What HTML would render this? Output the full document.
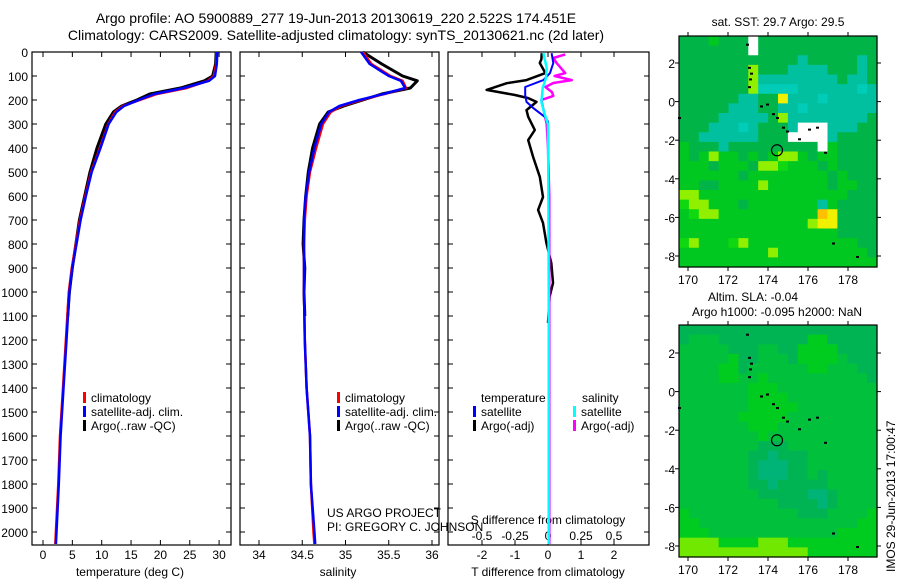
<!DOCTYPE html>
<html><head><meta charset="utf-8">
<style>
html,body{margin:0;padding:0;background:#fff;}
svg{display:block;font-family:"Liberation Sans",sans-serif;}
text{fill:#000;}
</style></head>
<body>
<svg id="fig" width="900" height="580" viewBox="0 0 900 580">
<text x="336" y="23" font-size="14" text-anchor="middle">Argo profile: AO 5900889_277 19-Jun-2013 20130619_220 2.522S 174.451E</text>
<text x="336" y="40" font-size="14" text-anchor="middle">Climatology: CARS2009. Satellite-adjusted climatology: synTS_20130621.nc (2d later)</text>
<g id="plots"></g>
</svg>
<script>
// ---------- data ----------
const depthTicks=[0,100,200,300,400,500,600,700,800,900,1000,1100,1200,1300,1400,1500,1600,1700,1800,1900,2000];
const tempTicks=[0,5,10,15,20,25,30];
const salTicks=[34,34.5,35,35.5,36];
const salTickLabels=["34","34.5","35","35.5","36"];
const dTTicks=[-2,-1,0,1,2];
const dSTicks=[-0.5,-0.25,0,0.25,0.5];
const dSTickLabels=["-0.5","-0.25","0","0.25","0.5"];

const climDepth=[0,50,100,120,150,175,200,225,250,300,400,500,600,700,800,900,1000,1200,1400,1600,1800,2000,2050];
const climTemp=[29.6,29.5,29.1,28.1,24.5,19.4,16.5,13.6,12.3,11.1,9.7,8.2,7.2,6.3,5.6,4.9,4.4,3.9,3.4,2.9,2.6,2.2,2.1];
const satTemp=[29.7,29.6,29.3,28.3,24.0,19.0,16.3,13.8,12.5,11.2,9.8,8.3,7.3,6.4,5.7,5.0,4.5,4.0,3.5,3.0,2.7,2.3,2.2];
const argoDepth=[0,50,100,120,150,175,200,225,250,300,400,500,600,700,800,900,1000,1100];
const argoTemp=[29.5,29.4,28.9,27.5,23.4,18.2,16.0,13.4,12.0,10.7,9.2,8.0,7.1,6.2,5.6,5.0,4.5,4.2];

const climSal=[35.2,35.3,35.52,35.66,35.7,35.45,35.18,34.95,34.83,34.74,34.66,34.59,34.55,34.53,34.52,34.52,34.52,34.53,34.55,34.59,34.6,34.63,34.64];
const satSal=[35.18,35.28,35.5,35.64,35.69,35.44,35.16,34.93,34.81,34.72,34.64,34.58,34.54,34.52,34.52,34.52,34.52,34.53,34.55,34.59,34.6,34.64,34.65];
const argoSal=[35.2,35.42,35.66,35.83,35.75,35.42,35.2,34.98,34.8,34.7,34.62,34.57,34.54,34.52,34.51,34.53,34.52,34.53];

const dTSatDepth=[5,46,88,117,146,179,208,233,270,290,500,1000,1500,2050];
const dTSat=[0.11,0.16,0.06,-0.14,-0.69,-0.69,-0.65,-0.45,-0.1,0.0,0.02,0.02,0.03,0.03];
const dTArgoDepth=[5,30,46,88,117,130,158,179,192,208,242,270,325,367,437,520,604,658,712,796,879,962,1020,1129];
const dTArgo=[-0.19,-0.2,-0.25,-0.08,-0.65,-1.25,-1.86,-1.0,-0.6,-0.35,-0.65,-0.6,-0.4,-0.6,-0.45,-0.25,-0.15,-0.3,-0.15,-0.05,0.1,0.15,0.05,0.0];
const dSSatDepth=[5,67,108,150,208,260,300,600,1000,1500,2050];
const dSSat=[-0.035,-0.01,-0.015,-0.04,-0.05,-0.025,0.0,0.003,0.005,0.005,0.005];
const dSArgoDepth=[10,25,46,88,100,117,129,146,167,183,200,250,300,400,600,1000,1500,2050];
const dSArgo=[0.13,0.04,0.065,0.13,0.05,0.18,0.04,-0.02,0.03,0.04,-0.05,-0.03,-0.01,0.0,0.01,0.01,0.01,0.01];

const lonTicks=[170,172,174,176,178];
const latTicks=[2,0,-2,-4,-6,-8];
const sstGrid=[
"gggGgggwgggggggggggg","gggggggwgggggggggggg","ggggggggggggtgggggtg","gggggggygggttttgggtg",
"gggggggyttttttttgttg","gggggggyTTTTttttttTt","ggggggttggYtttTttttt","gggggtttggttTttttttt",
"ggggtttttgyttttttttg","gggtttTtgggtwwwtttgg","ggttttttgggwwwwtgggg","GgggtgggggggggwGgggg",
"GgGyGGgGgGyyGgGGgggg","GGGgGGGgyybGGGgGgggg","GGGGGGgGGGGGGGGgGggg","GGggGGGGyGGGGGGgGGgg",
"yyGGGGGGGGGGGGGGGggg","byyGGGgGGGGGGGtGgggg","GbyyGGGGGGGGGGoYgggg","GGGGGGGGGGGGGyYYgggg",
"GGGGGGGGGGGGGGGGgggg","byGGGbyGGGGGGGGGGGgg","GGGGGGGGGyGGGGGGGGGg","GGGGGGGGGGGGGGGGGGGG"];
const slaGrid=[
"gggggggggggggggggggg","gmmmgggggggggGGggggg","mmmmmgggmmggGGGGgggg","mmmmmGggmmmgGGGGmggg",
"mmmmGGgmmmmmmGGmmmgg","mmmmGGmmGmmmmmmmmmmg","mmmmmmmGGGmmmmmmmmmm","mmmmmmmGGGGmmmmmmmmm",
"mmmmmmmGGGGGmmmmmmmm","mmmmmmGGGGGmmmmmmmmm","mmmmmmmGGGmmmmmmmmmm","mmmmmmmmGmmmmmmmmmmm",
"mmmmmmmmgggmmmmmmmmm","mmmmmmmggtgggmmmmmmm","mmmmmmmgtttggmmmmmmm","mmmmmmmgtttggmgmmmmm",
"mmmmmmmggtgggggmmmmm","mmmmmmmmgggggttgmmmm","mmmmmmmmmmggggtgmmmm","GmmmmmmmmmmmgggmmmmG",
"GGmmmmmmmmmmmmmmmmGG","GGGmmmmmmmmmmmmmGGGG","yyyyGGGGyyyGGGGGGGGG","yyyyyyyyyyyyyGGGGGGG"];
const coastLon=[172.9,173.0,173.1,173.05,173.0,173.6,173.9,174.2,174.4,174.7,174.9,175.5,176.0,176.4,176.8,177.2,178.4,169.5];
const coastLat=[3.0,1.8,1.5,1.2,0.8,-0.2,-0.1,-0.6,-0.8,-1.3,-1.5,-1.9,-1.4,-1.3,-2.6,-7.3,-8.0,-0.8];
const argoLon=[174.451];
const argoLat=[-2.522];

// ---------- helpers ----------
const NS="http://www.w3.org/2000/svg";
const root=document.getElementById('plots');
function mk(tag,attrs,parent){const e=document.createElementNS(NS,tag);for(const k in attrs)e.setAttribute(k,attrs[k]);(parent||root).appendChild(e);return e;}
const top0=52,bot=545;
const yD=d=>top0+d*0.24;
function poly(xs,ds,fx,color,w,name,g){
  const pts=xs.map((v,i)=>fx(v).toFixed(1)+","+yD(ds[i]).toFixed(1)).join(" ");
  const p=mk('polyline',{points:pts,fill:'none',stroke:color,'stroke-width':w,'stroke-linejoin':'round'},g);
  
  
}
function panel(x0,x1,name){
  const g=mk('g',{});
  
  
  mk('rect',{x:x0,y:top0,width:x1-x0,height:bot-top0,fill:'#fff',stroke:'#000','stroke-width':1.2},g);
  depthTicks.forEach(d=>{mk('line',{x1:x0,x2:x0+5,y1:yD(d),y2:yD(d),stroke:'#000'},g);mk('line',{x1:x1-5,x2:x1,y1:yD(d),y2:yD(d),stroke:'#000'},g);});
  return g;
}
function xticks(g,ticks,labels,fx,ly){
  ticks.forEach((t,i)=>{const x=fx(t);
    mk('line',{x1:x,x2:x,y1:top0,y2:top0+5,stroke:'#000'},g);
    mk('line',{x1:x,x2:x,y1:bot-5,y2:bot,stroke:'#000'},g);
    const tx=mk('text',{x:x,y:ly,'font-size':12,'text-anchor':'middle'},g);tx.textContent=labels[i];
    
    });
}
function label(g,x,y,s,txt,anchor,name){const t=mk('text',{x:x,y:y,'font-size':s,'text-anchor':anchor||'start'},g);t.textContent=txt;
  
  return t;}
function legend(g,x,y,color,txt,name){mk('rect',{x:x,y:y-10,width:3,height:11,fill:color},g);label(g,x+8,y,12,txt,'start',name);}

// ---------- panel 1: temperature ----------
const fT=t=>43+t*5.87;
const g1=panel(32,231,'temperature-panel');
depthTicks.forEach(d=>{const t=label(g1,28,yD(d)+5,12,String(d),'end','depth-tick-label');});
xticks(g1,tempTicks,tempTicks.map(String),fT,559);
label(g1,130,576,12,'temperature (deg C)','middle','temperature-axis-title');
poly(argoTemp,argoDepth,fT,'#000',3,'argo-temperature-line',g1);
poly(climTemp,climDepth,fT,'#f00',2.5,'climatology-temperature-line',g1);
poly(satTemp,climDepth,fT,'#00f',2.5,'satellite-temperature-line',g1);
legend(g1,83,402,'#f00','climatology','legend-climatology');
legend(g1,83,416,'#00f','satellite-adj. clim.','legend-satellite');
legend(g1,83,430,'#000','Argo(..raw -QC)','legend-argo');

// ---------- panel 2: salinity ----------
const fS=s=>259+(s-34)*86.5;
const g2=panel(240,439,'salinity-panel');
xticks(g2,salTicks,salTickLabels,fS,559);
label(g2,338,576,12,'salinity','middle','salinity-axis-title');
poly(argoSal,argoDepth,fS,'#000',3,'argo-salinity-line',g2);
poly(climSal,climDepth,fS,'#f00',2.5,'climatology-salinity-line',g2);
poly(satSal,climDepth,fS,'#00f',2.5,'satellite-salinity-line',g2);
legend(g2,337,402,'#f00','climatology','legend-climatology');
legend(g2,337,416,'#00f','satellite-adj. clim.','legend-satellite');
legend(g2,337,430,'#000','Argo(..raw -QC)','legend-argo');

// ---------- panel 3: differences ----------
const fdT=v=>548+v*33;
const fdS=v=>548+v*132;
const g3=panel(448,649,'difference-panel');
xticks(g3,dTTicks,dTTicks.map(String),fdT,559);
dSTicks.forEach((t,i)=>{const tx=label(g3,fdS(t),540,12,dSTickLabels[i],'middle','s-diff-tick-label');});
label(g3,548,524,12,'S difference from climatology','middle','s-diff-axis-title');
label(g3,548,576,12,'T difference from climatology','middle','t-diff-axis-title');
poly(dTArgo,dTArgoDepth,fdT,'#000',2.5,'argo-t-diff-line',g3);
poly(dSArgo,dSArgoDepth,fdS,'#f0f',2.5,'argo-s-diff-line',g3);
poly(dTSat,dTSatDepth,fdT,'#00f',2,'satellite-t-diff-line',g3);
poly(dSSat,dSSatDepth,fdS,'#0ff',2.5,'satellite-s-diff-line',g3);
label(g3,481,402,12,'temperature','start','legend-temperature-header');
label(g3,582,402,12,'salinity','start','legend-salinity-header');
legend(g3,473,416,'#00f','satellite','legend-t-satellite');
legend(g3,473,430,'#000','Argo(-adj)','legend-t-argo');
legend(g3,573,416,'#0ff','satellite','legend-s-satellite');
legend(g3,573,430,'#f0f','Argo(-adj)','legend-s-argo');

// credits drawn last so they overlap panel 3 like the reference
label(root,327,517,12,'US ARGO PROJECT','start','project-label');
label(root,327,531,12,'PI: GREGORY C. JOHNSON','start','pi-label');

// ---------- maps ----------
const sstColors={g:'#00b448',G:'#00c820',b:'#10d810',t:'#00c0a0',T:'#00ccb8',y:'#90f000',Y:'#f0f000',w:'#ffffff',o:'#ffc000'};
const slaColors={g:'#00b454',m:'#00c03c',G:'#00cc20',t:'#00b478',y:'#70e800'};
function map(y0,y1,lat2y,latm8y,grid,colors,name){
  const x0=679,x1=877;
  const g=mk('g',{});
  
  
  const fx=lon=>688+(lon-170)*20;
  const k=(latm8y-lat2y)/10;
  const fy=lat=>lat2y+(2-lat)*k;
  const cw=(x1-x0)/grid[0].length, ch=(y1-y0)/grid.length;
  grid.forEach((row,r)=>{for(let c=0;c<row.length;c++){
    const cell=mk('rect',{x:(x0+c*cw).toFixed(2),y:(y0+r*ch).toFixed(2),width:(cw+0.6).toFixed(2),height:(ch+0.6).toFixed(2),fill:colors[row[c]]},g);
    
    }});
  coastLon.forEach((lon,i)=>{const d=mk('rect',{x:fx(lon),y:fy(coastLat[i]),width:3,height:2,fill:'#000'},g);
    
    });
  argoLon.forEach((lon,i)=>{const c=mk('circle',{cx:fx(lon),cy:fy(argoLat[i]),r:5.5,fill:'none',stroke:'#000','stroke-width':1.2},g);
    
    });
  mk('rect',{x:x0,y:y0,width:x1-x0,height:y1-y0,fill:'none',stroke:'#000','stroke-width':1.2},g);
  lonTicks.forEach(l=>{const x=fx(l);mk('line',{x1:x,x2:x,y1:y0-4,y2:y0,stroke:'#000'},g);mk('line',{x1:x,x2:x,y1:y1,y2:y1+4,stroke:'#000'},g);
    label(g,x,y1+17,12,String(l),'middle','lon-tick-label');});
  latTicks.forEach(l=>{const y=fy(l);mk('line',{x1:x0-4,x2:x0,y1:y,y2:y,stroke:'#000'},g);mk('line',{x1:x1,x2:x1+4,y1:y,y2:y,stroke:'#000'},g);
    label(g,675,y+5,12,String(l),'end','lat-tick-label');});
  return g;
}
const m1=map(36,267,63,256,sstGrid,sstColors,'sst-map');
label(m1,778,26,12,'sat. SST: 29.7 Argo: 29.5','middle','sst-map-title');
const m2=map(325,557,353,546,slaGrid,slaColors,'sla-map');
label(m2,753,301,12,'Altim. SLA: -0.04','middle','sla-map-title');
label(m2,777,316,12,'Argo h1000: -0.095 h2000: NaN','middle','sla-map-subtitle');
const r=label(root,0,0,12,'IMOS 29-Jun-2013 17:00:47','start','timestamp-label');
r.setAttribute('transform','translate(895,572) rotate(-90)');
</script>
</body></html>
